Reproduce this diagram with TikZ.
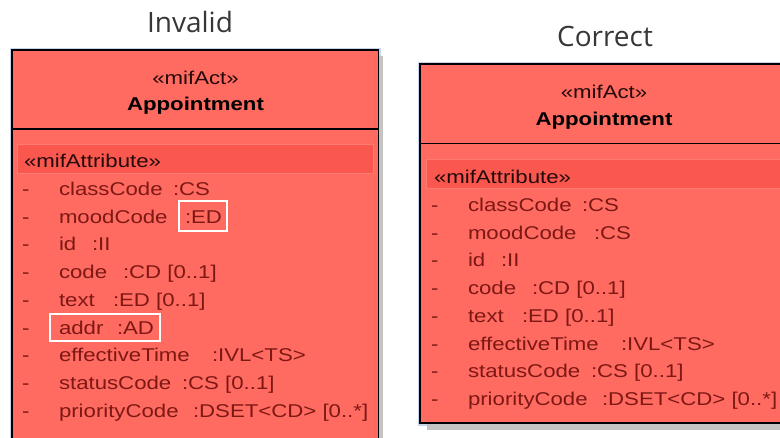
\documentclass[tikz,border=0pt]{standalone}
\usepackage{fontspec}
\setmainfont{Liberation Sans}[FakeStretch=1.2]
\newfontfamily\titlefont{Open Sans}
\definecolor{boxfill}{RGB}{255,106,97}
\definecolor{bandfill}{RGB}{250,88,78}
\definecolor{bandline}{RGB}{255,122,112}
\definecolor{attr}{RGB}{125,24,20}
\definecolor{darktext}{RGB}{35,10,10}
\definecolor{halo}{RGB}{200,212,236}
\definecolor{shadowgray}{RGB}{196,196,196}
\definecolor{titlegray}{RGB}{55,55,55}
\begin{document}
\begin{tikzpicture}[x=1pt,y=-1pt,
  txt/.style={inner sep=0pt,outer sep=0pt,font=\fontsize{18.5}{20}\selectfont},
  attrtxt/.style={txt,text=attr,anchor=base west},
  headtxt/.style={txt,text=darktext,anchor=base},
  titletxt/.style={inner sep=0pt,text=titlegray,font=\titlefont\fontsize{28}{32}\selectfont},
  boxline/.style={draw=black,line width=1.8pt},
  haloline/.style={draw=halo,line width=1.5pt},
  band/.style={fill=bandfill,draw=bandline,line width=0.8pt},
  mark box/.style={draw=white,line width=1.5pt}]
\useasboundingbox (0,0) rectangle (780,437);
\clip (0,0) rectangle (780,437);
\fill[white] (0,0) rectangle (780,437);

% titles
\node[titletxt] (tInvalid) at (190,22) {Invalid};
\node[titletxt] (tCorrect) at (605,36) {Correct};

% ---------- left box ----------
\draw[haloline] (10.5,48.5) rectangle (380,470);
\fill[shadowgray] (18,56) rectangle (383,470);
\draw[boxline,fill=boxfill] (12,50) rectangle (378.5,470);
\draw[boxline,line width=1.5pt] (12,129) -- (378.5,129);
\draw[band] (17,144) rectangle (373,173);
\node[headtxt] (lStereo) at (195.5,84) {«mifAct»};
\node[headtxt,font=\fontsize{18.5}{20}\selectfont\bfseries,text=black] (lName) at (195.5,110.5) {Appointment};
\node[txt,text=darktext,anchor=base west] (lAttrHead) at (24,167.5) {«mifAttribute»};
\foreach \nm/\ty/\cx [count=\i from 0] in {classCode/{:CS}/173,moodCode/{:ED}/185,id/{:II}/92,code/{:CD [0..1]}/123,text/{:ED [0..1]}/113,addr/{:AD}/117,effectiveTime/{:IVL<TS>}/212,statusCode/{:CS [0..1]}/182,priorityCode/{:DSET<CD> [0..*]}/193}{
  \node[attrtxt] (lDash\i) at (22,195.5+27.7*\i) {-};
  \node[attrtxt] (lName\i) at (59,195.5+27.7*\i) {\nm};
  \node[attrtxt] (lType\i) at (\cx,195.5+27.7*\i) {\ty};
}
\draw[mark box] (179,201) rectangle (227,231);
\draw[mark box] (50,314) rectangle (160,341);

% ---------- right box ----------
\draw[haloline] (418.5,62.5) rectangle (790,425);
\fill[shadowgray] (427,70) rectangle (790,430);
\draw[boxline,fill=boxfill] (420,64) rectangle (792,423);
\draw[boxline,line width=1.5pt] (420,143.5) -- (792,143.5);
\draw[band] (426,159) rectangle (790,188);
\node[headtxt] (rStereo) at (604,98.5) {«mifAct»};
\node[headtxt,font=\fontsize{18.5}{20}\selectfont\bfseries,text=black] (rName) at (604,125) {Appointment};
\node[txt,text=darktext,anchor=base west] (rAttrHead) at (434,183.5) {«mifAttribute»};
\foreach \nm/\ty/\cx [count=\i from 0] in {classCode/{:CS}/582,moodCode/{:CS}/594,id/{:II}/501,code/{:CD [0..1]}/532,text/{:ED [0..1]}/522,effectiveTime/{:IVL<TS>}/621,statusCode/{:CS [0..1]}/591,priorityCode/{:DSET<CD> [0..*]}/602}{
  \node[attrtxt] (rDash\i) at (431,211.5+27.7*\i) {-};
  \node[attrtxt] (rName\i) at (468,211.5+27.7*\i) {\nm};
  \node[attrtxt] (rType\i) at (\cx,211.5+27.7*\i) {\ty};
}
\end{tikzpicture}
\end{document}
